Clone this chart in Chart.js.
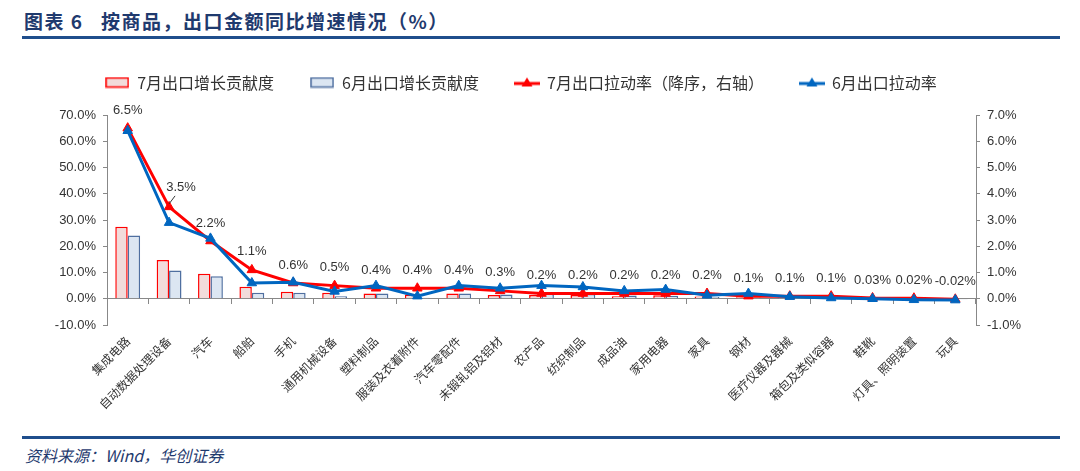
<!DOCTYPE html>
<html lang="zh-CN">
<head>
<meta charset="utf-8">
<title>按商品，出口金额同比增速情况</title>
<script src="https://cdn.jsdelivr.net/npm/chart.js@4.4.1/dist/chart.umd.min.js"></script>
<style>
    html, body { margin: 0; padding: 0; background: #fff; }
    #pagina { position: relative; width: 1080px; height: 471px; overflow: hidden; }
    #titulo {
        position: absolute; left: 24px; top: 7px;
        font: bold 19px "Noto Sans CJK SC", sans-serif; letter-spacing: 1.5px;
        color: #1F3A6E; white-space: pre;
    }
    .linha { position: absolute; left: 22px; width: 1038px; height: 2.5px; background: #1F4E8C; }
    #fonte {
        position: absolute; left: 25px; top: 443px;
        font: italic 16px "Noto Sans CJK SC", sans-serif; color: #1F3A6E;
    }
    #caixa { position: absolute; left: 0; top: 38px; width: 1080px; height: 397px; }
</style>
</head>
<body>
<div id="pagina">
    <div id="titulo">图表 6   按商品，出口金额同比增速情况（%）</div>
    <div class="linha" style="top:36px"></div>
    <div id="caixa"><canvas id="grafico"></canvas></div>
    <div class="linha" style="top:436px"></div>
    <div id="fonte">资料来源：Wind，华创证券</div>
</div>
<script>
/* ============================
      DADOS
============================ */
const categorias = ["集成电路", "自动数据处理设备", "汽车", "船舶", "手机", "通用机械设备", "塑料制品",
    "服装及衣着附件", "汽车零配件", "未锻轧铝及铝材", "农产品", "纺织制品", "成品油", "家用电器", "家具",
    "钢材", "医疗仪器及器械", "箱包及类似容器", "鞋靴", "灯具、照明装置", "玩具"];

// 增长贡献度 (左轴, %)
const contribJul = [27.4, 14.8, 9.5, 4.6, 2.7, 2.3, 2.0, 1.6, 2.0, 1.4, 1.4, 1.4, 1.0, 1.3, 0.9, 0.6, 0.5, 0.4, 0.3, 0.2, -0.2];
const contribJun = [24.1, 10.8, 8.6, 2.3, 2.3, 1.0, 2.0, 0.4, 2.0, 1.6, 1.9, 1.8, 1.2, 1.1, 0.7, 0.5, 0.4, 0.3, 0.2, 0.1, -0.1];

// 出口拉动率 (右轴, %)
const puxaoJul = [6.5, 3.5, 2.2, 1.1, 0.6, 0.5, 0.4, 0.4, 0.4, 0.3, 0.2, 0.2, 0.2, 0.2, 0.2, 0.1, 0.1, 0.1, 0.03, 0.02, -0.02];
const puxaoJun = [6.4, 2.9, 2.3, 0.6, 0.63, 0.28, 0.5, 0.1, 0.5, 0.4, 0.5, 0.45, 0.3, 0.35, 0.13, 0.2, 0.08, 0.03, 0.0, -0.04, -0.05];

// 坐标轴刻度
const eixoEsq = { min: -10, max: 70, passo: 10 };
const eixoDir = { min: -1, max: 7, passo: 1 };

const nomes = ["7月出口增长贡献度", "6月出口增长贡献度", "7月出口拉动率（降序，右轴）", "6月出口拉动率"];

const VERMELHO = "#FF0000";
const AZUL = "#0066C0";
const FONTE_CJK = "'Noto Sans CJK SC', sans-serif";
const FONTE_NUM = "'Liberation Sans', Arial, sans-serif";

Chart.defaults.color = "#333";
Chart.defaults.font.family = FONTE_NUM;

/* ============================
      ÍCONES DA LEGENDA
============================ */
function iconeCaixa(fundo, borda) {
    const c = document.createElement("canvas");
    c.width = 24; c.height = 12;
    const g = c.getContext("2d");
    g.fillStyle = fundo;
    g.fillRect(1, 1.5, 22, 9);
    g.strokeStyle = borda;
    g.lineWidth = 1.5;
    g.strokeRect(1, 1.5, 22, 9);
    return c;
}

function iconeLinha(cor) {
    const c = document.createElement("canvas");
    c.width = 26; c.height = 12;
    const g = c.getContext("2d");
    g.strokeStyle = cor;
    g.lineWidth = 3;
    g.beginPath(); g.moveTo(0, 7); g.lineTo(26, 7); g.stroke();
    g.fillStyle = cor;
    g.beginPath(); g.moveTo(13, 1); g.lineTo(18.5, 10); g.lineTo(7.5, 10); g.closePath(); g.fill();
    return c;
}

const icones = [
    iconeCaixa("#F2DCDB", VERMELHO),
    iconeCaixa("#DCE6F2", "#4F6FA0"),
    iconeLinha(VERMELHO),
    iconeLinha(AZUL)
];

/* ============================
      RÓTULOS DO 7月拉动率
============================ */
const rotulos = {
    id: "rotulos",
    afterDatasetsDraw(chart) {
        const meta = chart.getDatasetMeta(2);
        const ctx = chart.ctx;
        ctx.save();
        ctx.font = "13px " + FONTE_NUM;
        ctx.fillStyle = "#333";
        ctx.textAlign = "center";
        ctx.textBaseline = "middle";
        meta.data.forEach((p, i) => {
            const v = puxaoJul[i];
            const txt = (Math.abs(v) < 0.1 ? v.toFixed(2) : v.toFixed(1)) + "%";
            let x = p.x, y = p.y - 18;
            if (i === 1) {
                // rótulo deslocado com seta
                x += 12; y -= 1;
                ctx.strokeStyle = "#333";
                ctx.lineWidth = 1;
                ctx.beginPath();
                ctx.moveTo(x - 6, y + 8);
                ctx.lineTo(p.x, p.y - 3);
                ctx.stroke();
            }
            ctx.fillText(txt, x, y);
        });
        ctx.restore();
    }
};

/* ============================
      GRÁFICO
============================ */
new Chart(document.getElementById("grafico"), {
    data: {
        labels: categorias,
        datasets: [
            {
                type: "bar", label: nomes[0], data: contribJul, yAxisID: "y", order: 2,
                backgroundColor: "#F2DCDB", borderColor: VERMELHO, borderWidth: 1.5,
                categoryPercentage: 0.6, barPercentage: 1.0
            },
            {
                type: "bar", label: nomes[1], data: contribJun, yAxisID: "y", order: 3,
                backgroundColor: "#DCE6F2", borderColor: "#4F6FA0", borderWidth: 1.5,
                categoryPercentage: 0.6, barPercentage: 1.0
            },
            {
                type: "line", label: nomes[2], data: puxaoJul, yAxisID: "y1", order: 1,
                borderColor: VERMELHO, backgroundColor: VERMELHO, borderWidth: 3,
                pointStyle: "triangle", pointRadius: 5.5, pointBorderWidth: 1, tension: 0
            },
            {
                type: "line", label: nomes[3], data: puxaoJun, yAxisID: "y1", order: 0,
                borderColor: AZUL, backgroundColor: AZUL, borderWidth: 3,
                pointStyle: "triangle", pointRadius: 5.5, pointBorderWidth: 1, tension: 0
            }
        ]
    },
    options: {
        responsive: true,
        maintainAspectRatio: false,
        animation: false,
        layout: { padding: { top: 0.5, right: 38, bottom: 110, left: 0 } },
        plugins: {
            tooltip: { enabled: false },
            legend: {
                position: "top",
                labels: {
                    font: { family: FONTE_CJK, size: 16 },
                    color: "#333",
                    usePointStyle: true,
                    pointStyleWidth: 24,
                    boxHeight: 10,
                    padding: 36,
                    sort: (a, b) => a.datasetIndex - b.datasetIndex,
                    generateLabels(chart) {
                        const itens = Chart.defaults.plugins.legend.labels.generateLabels(chart);
                        itens.forEach(it => { it.pointStyle = icones[it.datasetIndex]; });
                        return itens;
                    }
                }
            },
            // espaço vazio entre legenda e área do gráfico
            title: { display: true, text: "", weight: 500, font: { size: 1 }, padding: { top: 0, bottom: 13.3 } }
        },
        scales: {
            x: {
                type: "category",
                position: { y: 0 },
                offset: true,
                grid: { offset: true, drawOnChartArea: false, drawTicks: true, tickLength: 5, color: "#888" },
                border: { display: true, color: "#888", width: 1 },
                ticks: {
                    autoSkip: false, minRotation: 45, maxRotation: 45, padding: 30,
                    font: { family: FONTE_CJK, size: 12 }, color: "#333"
                }
            },
            y: {
                position: "left",
                min: eixoEsq.min, max: eixoEsq.max,
                afterFit: s => { s.width = 107; },
                grid: { drawOnChartArea: false, tickLength: 4, color: "#888" },
                border: { display: true, color: "#888", width: 1 },
                ticks: {
                    stepSize: eixoEsq.passo, padding: 7, font: { size: 13 }, color: "#333",
                    callback: v => v.toFixed(1) + "%"
                }
            },
            y1: {
                position: "right",
                min: eixoDir.min, max: eixoDir.max,
                afterFit: s => { s.width = 66; },
                grid: { drawOnChartArea: false, tickLength: 4, color: "#888" },
                border: { display: true, color: "#888", width: 1 },
                ticks: {
                    stepSize: eixoDir.passo, padding: 7, font: { size: 13 }, color: "#333",
                    callback: v => v.toFixed(1) + "%"
                }
            }
        }
    },
    plugins: [rotulos]
});
</script>
</body>
</html>
